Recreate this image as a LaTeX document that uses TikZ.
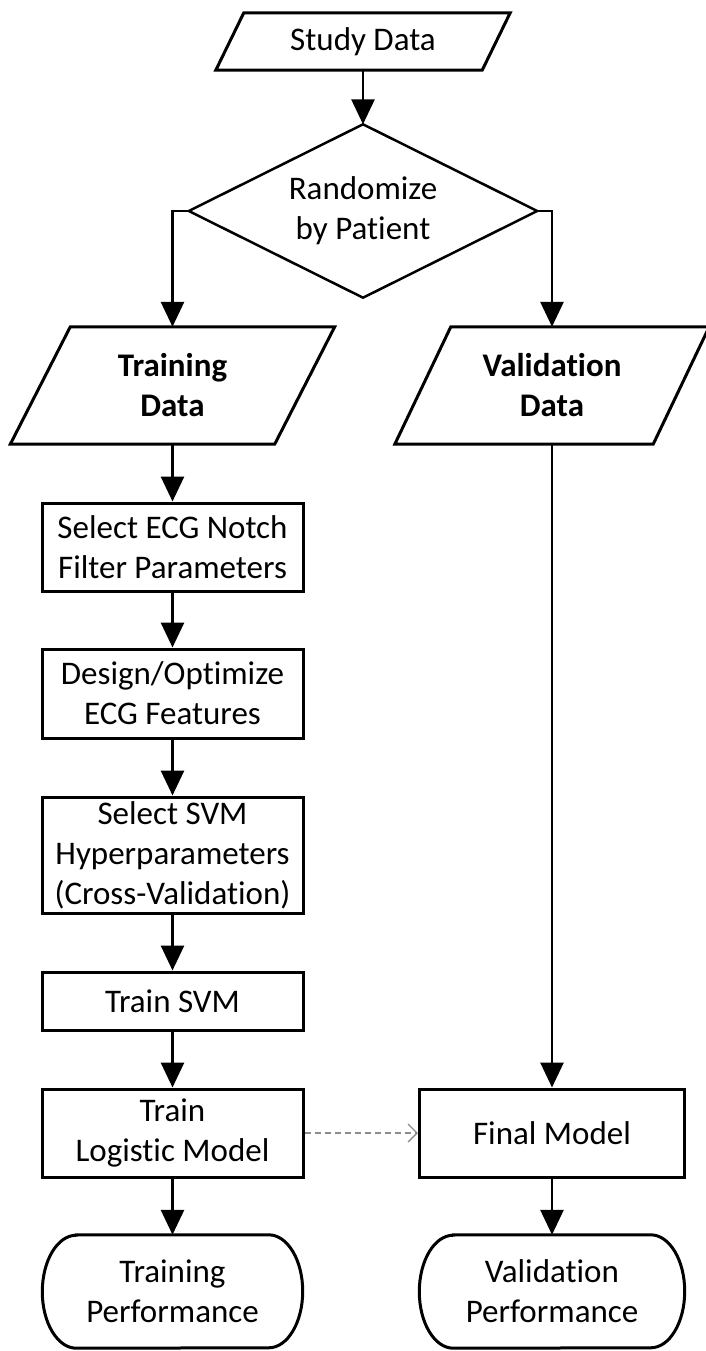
\documentclass[tikz,border=0pt]{standalone}
\usepackage{fontspec}
\setmainfont{Carlito}[Ligatures=NoCommon]
\usetikzlibrary{arrows.meta,calc}
\begin{document}
\begin{tikzpicture}[x=1pt,y=-1pt,
  every node/.style={font=\fontsize{33}{40}\selectfont, align=center, inner sep=0pt},
  boxnode/.style={draw, line width=3pt, minimum width=261pt},
  plain/.style={draw=none},
  conn/.style={line width=2.8pt, -{Triangle[length=25pt,width=23pt]}},
  dashconn/.style={line width=1.3pt, draw=black!45, dash pattern=on 6pt off 4pt, -{Straight Barb[length=9pt,width=18pt,line width=1.3pt]}},
  shapeline/.style={line width=3pt, line join=miter}
]
\useasboundingbox (0,0) rectangle (706,1351);

% Study Data
\node[plain, minimum width=266pt, minimum height=57pt] (sd) at (363,41.5) {Study Data};
\draw[shapeline] ([xshift=14pt]sd.north west) -- ([xshift=14pt]sd.north east) -- ([xshift=-14pt]sd.south east) -- ([xshift=-14pt]sd.south west) -- cycle;

% Diamond
\coordinate (dc) at (363,211);
\node[plain, minimum width=348pt, minimum height=173pt] (rand) at (dc) {Randomize\\by Patient};
\draw[line width=2.5pt, line join=miter] (rand.north) -- (rand.east) -- (rand.south) -- (rand.west) -- cycle;

% Training Data
\node[plain, minimum width=264pt, minimum height=117pt] (td) at (172.5,385.5) {\bfseries Training\\\bfseries Data};
\draw[shapeline] ([xshift=30pt]td.north west) -- ([xshift=30pt]td.north east) -- ([xshift=-30pt]td.south east) -- ([xshift=-30pt]td.south west) -- cycle;

% Validation Data
\node[plain, minimum width=258pt, minimum height=117pt] (vd) at (552,385.5) {\bfseries Validation\\\bfseries Data};
\draw[shapeline] ([xshift=28pt]vd.north west) -- ([xshift=28pt]vd.north east) -- ([xshift=-28pt]vd.south east) -- ([xshift=-28pt]vd.south west) -- cycle;

% Left column boxes
\node[boxnode, minimum height=88pt] (b1) at (172.5,547) {Select ECG Notch\\Filter Parameters};
\node[boxnode, minimum height=89pt] (b2) at (172.5,693.5) {Design/Optimize\\ECG Features};
\node[boxnode, minimum height=116pt] (b3) at (172.5,855) {Select SVM\\Hyperparameters\\(Cross-Validation)};
\node[boxnode, minimum height=58pt] (b4) at (172.5,1001) {Train SVM};
\node[boxnode, minimum height=88pt] (lm) at (172.5,1133) {Train\\Logistic Model};

% Final model
\node[boxnode, minimum width=265pt, minimum height=88pt] (fm) at (552,1133) {Final Model};

% Terminals
\node[plain, minimum width=260pt, minimum height=113pt] (tp) at (172.5,1291.5) {Training\\Performance};
\draw[shapeline] ([xshift=34pt]tp.north west) -- ([xshift=-34pt]tp.north east)
  arc[start angle=90, end angle=-90, x radius=34pt, y radius=56.5pt]
  -- ([xshift=34pt]tp.south west)
  arc[start angle=270, end angle=90, x radius=34pt, y radius=56.5pt] -- cycle;
\node[plain, minimum width=265pt, minimum height=113pt] (vp) at (552,1291.5) {Validation\\Performance};
\draw[shapeline] ([xshift=34pt]vp.north west) -- ([xshift=-34pt]vp.north east)
  arc[start angle=90, end angle=-90, x radius=34pt, y radius=56.5pt]
  -- ([xshift=34pt]vp.south west)
  arc[start angle=270, end angle=90, x radius=34pt, y radius=56.5pt] -- cycle;

% Connectors
\draw[conn] (sd.south) -- (rand.north);
\draw[conn] (rand.west) -| (td.north);
\draw[conn] (rand.east) -| (vd.north);
\draw[conn] (td.south) -- (b1.north);
\draw[conn] (b1.south) -- (b2.north);
\draw[conn] (b2.south) -- (b3.north);
\draw[conn] (b3.south) -- (b4.north);
\draw[conn] (b4.south) -- (lm.north);
\draw[conn] (lm.south) -- (tp.north);
\draw[conn] (vd.south) -- (fm.north);
\draw[conn] (fm.south) -- (vp.north);
\draw[dashconn] (lm.east) -- (fm.west);
\end{tikzpicture}
\end{document}
